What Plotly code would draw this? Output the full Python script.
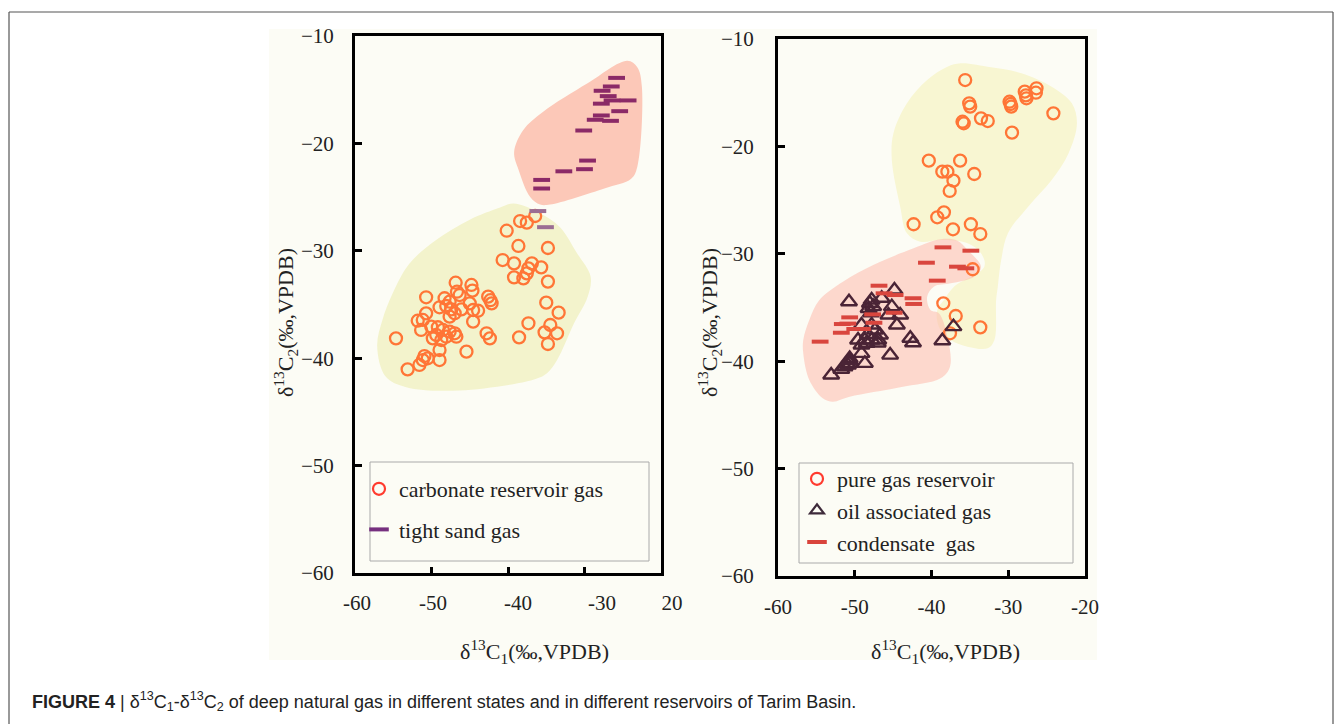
import plotly.graph_objects as go

W, H = 1342, 724

# ---------------- Left panel data ----------------
carb_x = [-46.84, -44.78, -44.65, -50.70, -48.29, -46.67, -46.32, -42.59, -42.30, -42.14,
          -47.63, -48.07, -48.95, -47.41, -45.00, -44.56, -43.91, -46.97, -47.63, -46.09,
          -50.70, -51.80, -51.14, -51.36, -50.04, -49.17, -48.51, -47.63, -46.97, -49.38,
          -48.07, -46.75, -49.83, -48.72, -44.56, -42.80, -42.37, -54.64, -48.95, -45.43,
          -50.92, -50.49, -51.14, -48.95, -51.58, -53.12,
          -36.45, -37.54, -38.42, -40.17, -38.64, -34.78, -40.70, -39.21, -36.88, -35.66,
          -37.33, -37.54, -39.21, -37.99, -34.78, -35.00, -33.38, -37.33, -34.47, -35.22,
          -33.59, -38.55, -34.78]
carb_y = [-32.97, -33.18, -33.71, -34.33, -34.42, -33.81, -34.12, -34.27, -34.60, -34.89,
          -34.74, -35.14, -35.26, -35.45, -34.89, -35.51, -35.58, -35.82, -36.13, -35.45,
          -35.82, -36.51, -36.44, -37.37, -37.06, -37.12, -37.37, -37.53, -37.68, -37.84,
          -38.00, -38.00, -38.15, -38.31, -36.60, -37.68, -38.15, -38.15, -39.24, -39.39,
          -39.80, -40.01, -40.17, -40.17, -40.63, -41.04,
          -26.76, -27.38, -27.23, -28.13, -29.55, -29.74, -30.86, -31.17, -31.17, -31.54,
          -31.63, -32.10, -32.47, -32.57, -32.87, -34.83, -35.76, -36.75, -36.91, -37.59,
          -37.68, -38.06, -38.68]

tight_x = [-25.8, -26.5, -27.7, -26.9, -26.4, -27.8, -24.3, -25.4, -27.8, -28.6, -26.6,
           -30.1, -29.6, -30.0, -32.7, -35.6, -35.6]
tight_y = [-13.9, -14.7, -15.1, -15.6, -16.0, -16.3, -16.0, -17.0, -17.4, -17.8, -17.9,
           -18.8, -21.6, -22.4, -22.6, -23.4, -24.2]
tight_faint_x = [-36.1, -35.1]
tight_faint_y = [-26.3, -27.8]

# field outlines (left)
left_pink_x = [-39.2, -38.0, -35.4, -29.6, -24.4, -23.1, -22.5, -23.1, -23.9, -27.4,
               -34.5, -35.8, -37.1, -38.6, -39.2]
left_pink_y = [-20.8, -18.75, -17.05, -14.4, -12.3, -12.9, -14.7, -22.2, -23.3, -24.2,
               -25.7, -25.7, -25.0, -22.5, -20.8]
left_yellow_x = [-39.3, -35.8, -33.2, -31.0, -29.2, -29.6, -31.4, -33.6, -34.9, -36.7,
                 -46.3, -53.3, -56.0, -57.1, -56.4, -55.1, -52.9, -49.4, -45.0, -41.1, -39.3]
left_yellow_y = [-25.6, -26.5, -27.8, -30.2, -32.4, -34.3, -36.8, -40.2, -41.4, -42.0,
                 -43.0, -42.7, -41.7, -38.9, -36.4, -34.0, -31.2, -29.0, -27.1, -26.0, -25.6]

# ---------------- Right panel data ----------------
pure_x = [-35.61, -35.09, -34.96, -35.96, -35.80, -33.55, -32.67, -29.83, -29.61, -29.70,
          -27.85, -27.63, -27.70, -26.32, -26.40, -24.12, -29.51, -40.35, -36.27, -38.59,
          -37.93, -37.14, -34.43, -37.63, -42.33, -39.25, -38.38, -37.20, -34.87, -33.64,
          -34.64, -38.46, -36.84, -37.59, -33.64]
pure_y = [-13.82, -15.99, -16.30, -17.70, -17.85, -17.39, -17.64, -15.84, -16.30, -16.05,
          -14.90, -15.52, -15.25, -14.59, -15.00, -16.92, -18.72, -21.33, -21.33, -22.35,
          -22.35, -23.19, -22.57, -24.15, -27.25, -26.60, -26.14, -27.72, -27.25, -28.16,
          -31.44, -34.61, -35.79, -37.40, -36.85]

oil_x = [-50.75, -44.83, -48.03, -47.80, -48.20, -47.90, -47.60, -46.49, -45.17, -44.08,
         -45.62, -44.51, -49.12, -47.80, -47.37, -46.71, -49.57, -48.68, -47.80, -46.93,
         -49.12, -48.46, -42.76, -42.41, -38.59, -49.12, -45.39, -50.66, -50.66, -50.88,
         -48.68, -51.75, -53.07, -51.32, -50.66, -37.14, -48.30, -47.00]
oil_y = [-34.46, -33.37, -34.61, -34.30, -35.10, -35.50, -34.90, -34.14, -34.92, -35.70,
         -35.70, -36.63, -36.63, -36.63, -37.09, -37.56, -38.03, -38.03, -38.03, -38.03,
         -38.49, -38.33, -37.87, -38.28, -38.09, -39.27, -39.43, -39.74, -40.20, -40.36,
         -40.20, -40.76, -41.29, -40.51, -39.95, -36.78, -37.50, -38.30]

cond_x = [-46.84, -46.18, -44.74, -39.25, -42.41, -42.32, -50.66, -47.67, -44.87, -47.50,
          -51.62, -50.90, -50.00, -49.00, -51.75, -54.51, -38.51, -34.87, -40.66, -36.62,
          -35.53]
cond_y = [-32.97, -33.68, -33.84, -32.50, -34.14, -34.67, -35.92, -35.64, -35.49, -36.42,
          -36.54, -36.50, -37.00, -37.00, -37.35, -38.18, -29.40, -29.71, -30.83, -31.20,
          -31.35]

# field outlines (right)
right_yellow_x = [-36.18, -32.24, -28.29, -24.34, -21.71, -21.05, -22.14, -24.34, -27.41,
                  -30.04, -30.92, -31.36, -31.58, -31.80, -32.67, -35.30, -37.50, -39.04,
                  -39.25, -38.38, -37.07, -33.12, -33.55, -35.30, -38.82, -41.45, -43.20,
                  -44.08, -45.17, -44.96, -43.20, -40.57, -37.93, -36.18]
right_yellow_y = [-12.26, -12.64, -13.19, -14.44, -15.99, -17.85, -20.64, -23.13, -25.61,
                  -28.09, -30.58, -33.06, -34.30, -38.03, -38.80, -38.65, -38.03, -36.79,
                  -35.23, -34.30, -33.06, -31.20, -29.95, -29.02, -28.72, -28.87, -28.09,
                  -25.61, -21.27, -18.78, -15.99, -13.82, -12.58, -12.26]
right_pink_x = [-51.54, -47.59, -42.33, -38.82, -36.62, -35.30, -33.55, -34.43, -37.50,
                -39.70, -40.57, -40.13, -39.04, -37.93, -37.59, -38.82, -44.08, -50.66,
                -52.86, -54.17, -55.92, -56.71, -56.71, -55.92, -54.61, -51.54]
right_pink_y = [-32.60, -31.04, -29.49, -28.65, -28.78, -29.65, -31.20, -32.13, -32.75,
                -33.06, -33.99, -35.23, -35.54, -37.72, -40.51, -41.59, -42.43, -43.31,
                -43.77, -43.45, -41.75, -39.26, -38.03, -36.16, -34.30, -32.60]

# ---------------- Tick labels ----------------
y_tickvals = [-10, -20, -30, -40, -50, -60]
y_ticktext = ["\u221210", "\u221220", "\u221230", "\u221240", "\u221250", "\u221260"]
x_tick_marks = [-50, -40, -30]
left_xlabel_pos = [-59.74, -49.80, -38.69, -27.71, -18.56]
left_xlabel_text = ["-60", "-50", "-40", "-30", "20"]
right_xlabel_vals = [-60, -50, -40, -30, -20]
right_xlabel_text = ["-60", "-50", "-40", "-30", "-20"]

SERIF = "Liberation Serif"
ORANGE = "#ff7536"

fig = go.Figure()


def poly(xs, ys, color, xa, ya):
    fig.add_trace(go.Scatter(x=xs, y=ys, mode="lines", fill="toself", fillcolor=color,
                             line=dict(width=0, shape="spline", smoothing=1.0, color=color),
                             showlegend=False, hoverinfo="skip", xaxis=xa, yaxis=ya))


# left panel
poly(left_yellow_x, left_yellow_y, "#f3f3cc", "x", "y")
poly(left_pink_x, left_pink_y, "#fcc8b8", "x", "y")
fig.add_trace(go.Scatter(x=carb_x, y=carb_y, mode="markers", xaxis="x", yaxis="y",
                         marker=dict(symbol="circle-open", size=12, color=ORANGE,
                                     line=dict(width=2.3, color=ORANGE)),
                         showlegend=False))
fig.add_trace(go.Scatter(x=tight_x, y=tight_y, mode="markers", xaxis="x", yaxis="y",
                         marker=dict(symbol="line-ew", size=12,
                                     line=dict(width=4, color="#8b2a67")),
                         showlegend=False))
fig.add_trace(go.Scatter(x=tight_faint_x, y=tight_faint_y, mode="markers", xaxis="x", yaxis="y",
                         marker=dict(symbol="line-ew", size=12,
                                     line=dict(width=4, color="#9b6e93")),
                         showlegend=False))

# right panel
poly(right_yellow_x, right_yellow_y, "#f8f6d2", "x2", "y2")
poly(right_pink_x, right_pink_y, "rgba(254,190,176,0.58)", "x2", "y2")
fig.add_trace(go.Scatter(x=pure_x, y=pure_y, mode="markers", xaxis="x2", yaxis="y2",
                         marker=dict(symbol="circle-open", size=12, color=ORANGE,
                                     line=dict(width=2.3, color=ORANGE)),
                         showlegend=False))
fig.add_trace(go.Scatter(x=oil_x, y=oil_y, mode="markers", xaxis="x2", yaxis="y2",
                         marker=dict(symbol="triangle-up-open", size=14, color="#4a2436",
                                     line=dict(width=2.4, color="#4a2436")),
                         showlegend=False))
fig.add_trace(go.Scatter(x=cond_x, y=cond_y, mode="markers", xaxis="x2", yaxis="y2",
                         marker=dict(symbol="line-ew", size=12,
                                     line=dict(width=4, color="#d9463e")),
                         showlegend=False))

# legend entries
fig.add_trace(go.Scatter(x=[None], y=[None], mode="markers", xaxis="x", yaxis="y",
                         name="carbonate reservoir gas", legend="legend", legendgroup="a",
                         marker=dict(symbol="circle-open", size=12, color="#ff3b2f",
                                     line=dict(width=2.2, color="#ff3b2f"))))
fig.add_trace(go.Scatter(x=[None], y=[None], mode="markers", xaxis="x", yaxis="y",
                         name="tight sand gas", legend="legend", legendgroup="b",
                         marker=dict(symbol="line-ew", size=14,
                                     line=dict(width=4, color="#76307f"))))
fig.add_trace(go.Scatter(x=[None], y=[None], mode="markers", xaxis="x2", yaxis="y2",
                         name="pure gas reservoir", legend="legend2", legendgroup="c",
                         marker=dict(symbol="circle-open", size=12, color="#ff3b2f",
                                     line=dict(width=2.2, color="#ff3b2f"))))
fig.add_trace(go.Scatter(x=[None], y=[None], mode="markers", xaxis="x2", yaxis="y2",
                         name="oil associated gas", legend="legend2", legendgroup="d",
                         marker=dict(symbol="triangle-up-open", size=12, color="#3d2a3a",
                                     line=dict(width=2.2, color="#3d2a3a"))))
fig.add_trace(go.Scatter(x=[None], y=[None], mode="markers", xaxis="x2", yaxis="y2",
                         name="condensate  gas", legend="legend2", legendgroup="e",
                         marker=dict(symbol="line-ew", size=14,
                                     line=dict(width=4, color="#d9443c"))))
# carrier trace for the free label axis
fig.add_trace(go.Scatter(x=[None], y=[None], xaxis="x3", yaxis="y", showlegend=False,
                         hoverinfo="skip"))


def px_x(p):
    return p / W


def px_y(p):
    return 1 - p / H


tickfont = dict(family=SERIF, size=21, color="#222")
frame = dict(showline=True, mirror=True, linewidth=3, linecolor="black",
             showgrid=False, zeroline=False)

fig.update_layout(
    width=W, height=H, margin=dict(l=0, r=0, t=0, b=0, autoexpand=False),
    paper_bgcolor="white", plot_bgcolor="rgba(0,0,0,0)",
    showlegend=True,
    xaxis=dict(domain=[px_x(355), px_x(661)], range=[-60, -20], anchor="y",
               tickvals=x_tick_marks, ticks="inside", ticklen=6, tickwidth=3,
               tickcolor="black", showticklabels=False, **frame),
    yaxis=dict(domain=[px_y(573), px_y(36)], range=[-60, -10], anchor="x",
               tickvals=y_tickvals, ticktext=y_ticktext, ticks="inside", ticklen=7,
               tickwidth=3, tickcolor="black", tickfont=tickfont,
               ticklabelstandoff=14, **frame),
    xaxis3=dict(domain=[px_x(355), px_x(700)], range=[-60, -60 + (700 - 355) / 7.65],
                anchor="free", position=px_y(573), tickvals=left_xlabel_pos,
                ticktext=left_xlabel_text, ticks="", showline=False, showgrid=False,
                zeroline=False, tickfont=tickfont, ticklabelstandoff=15),
    xaxis2=dict(domain=[px_x(778), px_x(1085)], range=[-60, -20], anchor="y2",
                tickvals=right_xlabel_vals, ticktext=right_xlabel_text, ticks="inside",
                ticklen=6, tickwidth=3, tickcolor="black", tickfont=tickfont,
                ticklabelstandoff=10, **frame),
    yaxis2=dict(domain=[px_y(576), px_y(39)], range=[-60, -10], anchor="x2",
                tickvals=y_tickvals, ticktext=y_ticktext, ticks="inside", ticklen=7,
                tickwidth=3, tickcolor="black", tickfont=tickfont,
                ticklabelstandoff=17, **frame),
    legend=dict(x=px_x(359), y=px_y(468), xanchor="left", yanchor="top",
                bgcolor="rgba(0,0,0,0)", borderwidth=0, traceorder="grouped",
                tracegroupgap=9, font=dict(family=SERIF, size=22, color="#222")),
    legend2=dict(x=px_x(797), y=px_y(458), xanchor="left", yanchor="top",
                 bgcolor="rgba(0,0,0,0)", borderwidth=0, traceorder="grouped",
                 tracegroupgap=0, font=dict(family=SERIF, size=22, color="#222")),
)

shapes = [
    # cream image area
    dict(type="rect", xref="paper", yref="paper", x0=px_x(269), x1=px_x(1097),
         y0=px_y(660), y1=px_y(29), fillcolor="#fcfcf5", line=dict(width=0), layer="below"),
    # outer figure border
    dict(type="line", xref="paper", yref="paper", x0=px_x(9), x1=px_x(1333),
         y0=px_y(12), y1=px_y(12), line=dict(color="#555", width=1.2)),
    dict(type="line", xref="paper", yref="paper", x0=px_x(9), x1=px_x(9),
         y0=px_y(12), y1=0, line=dict(color="#555", width=1.2)),
    dict(type="line", xref="paper", yref="paper", x0=px_x(1333), x1=px_x(1333),
         y0=px_y(12), y1=0, line=dict(color="#555", width=1.2)),
    # legend boxes
    dict(type="rect", xref="paper", yref="paper", x0=px_x(370), x1=px_x(649),
         y0=px_y(561), y1=px_y(462), line=dict(color="#aaa", width=1)),
    dict(type="rect", xref="paper", yref="paper", x0=px_x(799), x1=px_x(1073),
         y0=px_y(563), y1=px_y(463), line=dict(color="#aaa", width=1)),
]
fig.update_layout(shapes=shapes)

ytitle = "\u03b4<sup>13</sup>C<sub>2</sub>(\u2030,VPDB)"
xtitle = "\u03b4<sup>13</sup>C<sub>1</sub>(\u2030,VPDB)"
tfont = dict(family=SERIF, size=22, color="#222")
annos = [
    dict(text=ytitle, x=px_x(285), y=px_y(323), textangle=-90, font=tfont),
    dict(text=ytitle, x=px_x(709), y=px_y(323), textangle=-90, font=tfont),
    dict(text=xtitle, x=px_x(534), y=px_y(651), font=tfont),
    dict(text=xtitle, x=px_x(945), y=px_y(651), font=tfont),
    dict(text="<b>FIGURE 4</b> | \u03b4<sup>13</sup>C<sub>1</sub>-\u03b4<sup>13</sup>C<sub>2</sub> "
              "of deep natural gas in different states and in different reservoirs of Tarim Basin.",
         x=px_x(30), y=px_y(701), xanchor="left",
         font=dict(family="Liberation Sans", size=18, color="#222")),
]
for a in annos:
    a.setdefault("xanchor", "center")
    a.update(xref="paper", yref="paper", yanchor="middle", showarrow=False)
fig.update_layout(annotations=annos)

fig.write_html(
    "out.html",
    post_script=("document.documentElement.style.margin='0';"
                 "document.body.style.margin='0';document.body.style.padding='0';"
                 "document.documentElement.style.overflow='hidden';"
                 "document.body.style.overflow='hidden';"),
)
